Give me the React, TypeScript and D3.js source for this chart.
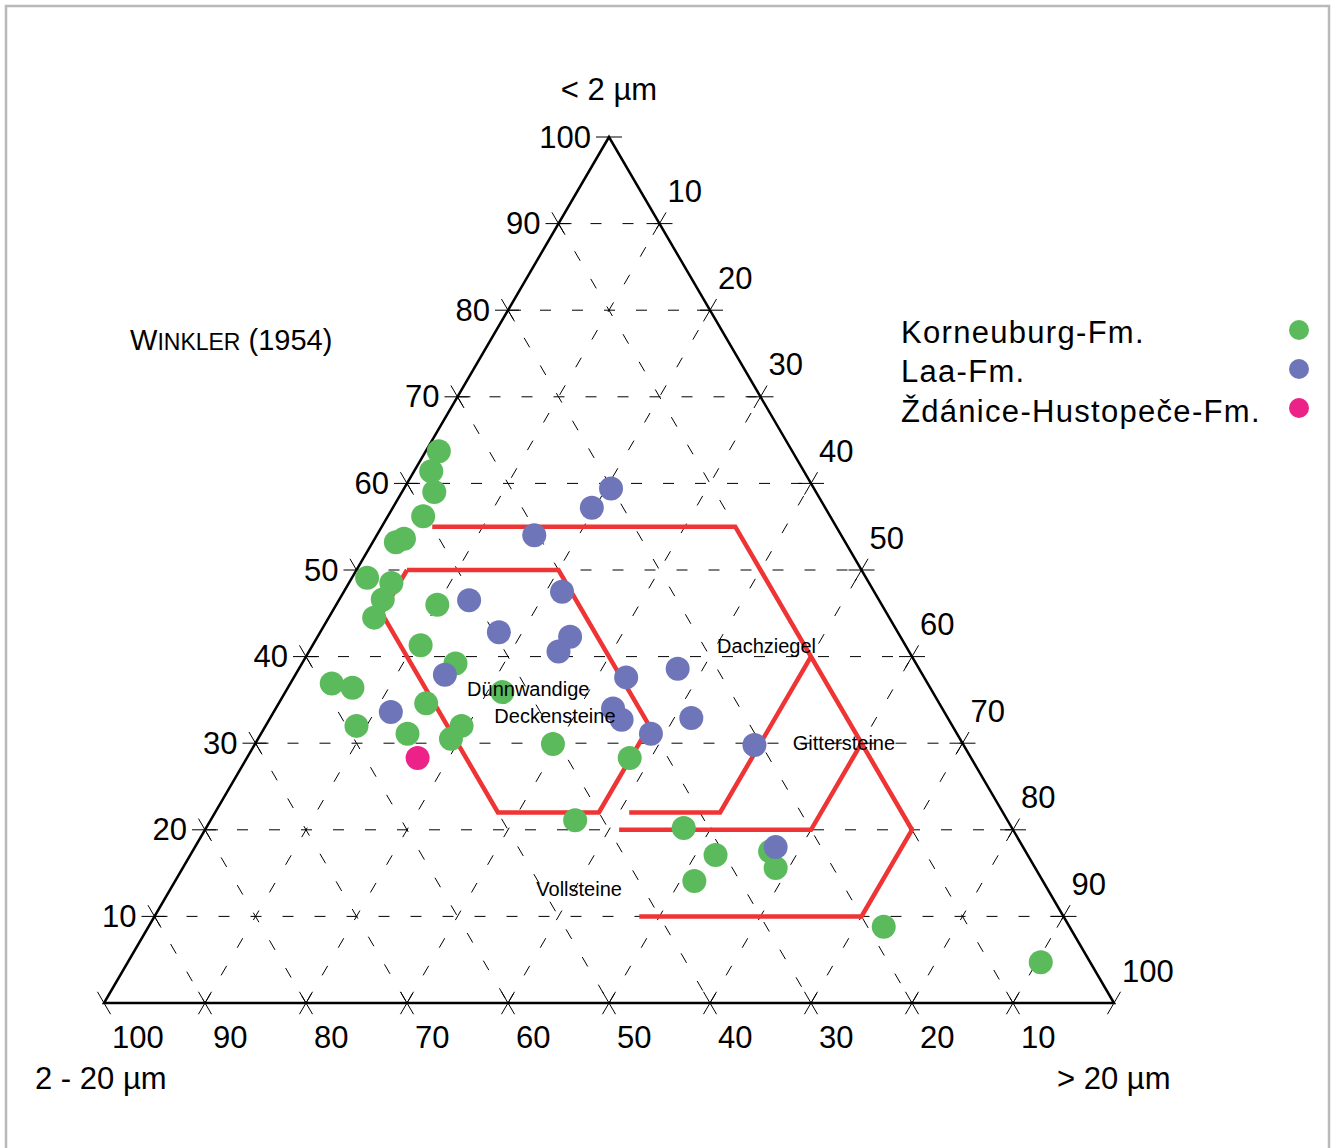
import React from "react";
import * as d3 from "d3";

// ---------- data (percentages: [clay <2µm, silt 2-20µm, sand >20µm]) ----------
const gridValues = [10, 20, 30, 40, 50, 60, 70, 80, 90];
const tickLabels = [10, 20, 30, 40, 50, 60, 70, 80, 90, 100];

const korneuburg: [number, number, number][] = [
  [63.7, 35.0, 1.3], [61.4, 36.9, 1.7], [59.0, 37.8, 3.2], [56.2, 40.3, 3.5],
  [53.2, 44.5, 2.3], [53.6, 43.5, 2.9], [49.1, 49.4, 1.5], [48.5, 47.3, 4.2],
  [46.6, 49.1, 4.3], [44.5, 51.0, 4.5], [46.0, 44.0, 10.0], [41.3, 48.0, 10.7],
  [39.2, 45.6, 15.2], [36.9, 59.0, 4.1], [36.4, 57.2, 6.4], [35.9, 42.6, 21.5],
  [34.6, 50.8, 14.6], [32.0, 59.0, 9.0], [32.0, 48.6, 19.4], [31.1, 54.4, 14.5],
  [30.5, 50.4, 19.1], [29.9, 40.6, 29.5], [28.3, 33.8, 37.9], [21.1, 42.8, 36.1],
  [20.2, 32.5, 47.3], [17.1, 30.9, 52.0], [17.5, 25.3, 57.2], [15.6, 25.7, 58.7],
  [14.1, 34.5, 51.4], [8.8, 18.4, 72.8], [4.7, 4.9, 90.4],
];

const laa: [number, number, number][] = [
  [59.4, 20.1, 20.5], [57.2, 23.1, 19.7], [54.0, 30.4, 15.6], [47.5, 30.9, 21.6],
  [46.5, 40.6, 12.9], [42.8, 39.5, 17.7], [42.3, 32.7, 25.0], [40.6, 34.7, 24.7],
  [37.6, 29.5, 32.9], [38.6, 23.9, 37.5], [37.9, 47.3, 14.8], [33.6, 54.8, 11.6],
  [34.0, 32.6, 33.4], [32.7, 32.4, 34.9], [32.9, 25.4, 41.7], [31.1, 30.3, 38.6],
  [29.8, 20.7, 49.5], [18.0, 24.5, 57.5],
];

const zdanice: [number, number, number][] = [[28.3, 54.8, 16.9]];

// Winkler (1954) field boundaries, [clay, sand]
const boundaryOuter: [number, number][] = [
  [55, 5], [55, 35], [40, 50], [30, 60], [20, 70], [10, 70], [10, 48],
];
const boundaryDachziegel: [number, number][] = [[40, 50], [22, 50], [22, 41]];
const boundaryGitter: [number, number][] = [[30, 60], [20, 60], [20, 41]];
const boundaryDuenn: [number, number][] = [
  [50, 5], [50, 20], [32, 38], [22, 38], [22, 28], [45, 5], [50, 5],
];

const fieldNames = ["Dachziegel", "Gittersteine", "Dünnwandige", "Deckensteine", "Vollsteine"];
const fieldClay = [41.2, 30.0, 36.3, 33.1, 13.2];
const fieldSand = [40.1, 53.2, 17.8, 22.1, 36.2];

const seriesNames = ["Korneuburg-Fm.", "Laa-Fm.", "Ždánice-Hustopeče-Fm."];
const seriesColors = ["#5bbb5c", "#6e76b9", "#ec2288"];

// ---------- geometry ----------
const W = 1335;
const H = 1148;
const L = { x: 104, y: 1003 };
const R = { x: 1114, y: 1003 };
const T = { x: 609, y: 137 };
const FONT = "'Liberation Sans', Arial, Helvetica, sans-serif";

const yScale = d3.scaleLinear().domain([0, 100]).range([L.y, T.y]);
const sandX = d3.scaleLinear().domain([0, 100]).range([0, R.x - L.x]);
const clayX = d3.scaleLinear().domain([0, 100]).range([0, T.x - L.x]);

const proj = (clay: number, sand: number): [number, number] => [
  L.x + clayX(clay) + sandX(sand),
  yScale(clay),
];

const line = d3.line<[number, number]>();

const unit = (dx: number, dy: number) => {
  const l = Math.hypot(dx, dy);
  return [dx / l, dy / l];
};
const dirClay = [1, 0];
const dirSand = unit(T.x - L.x, T.y - L.y);
const dirSilt = unit(R.x - T.x, R.y - T.y);
const TICK = 13;

export default function App() {
  // grid lines (clay = v horizontal, sand = v, silt = v)
  const gridLines: { a: [number, number]; b: [number, number]; dir: number[] }[] = [];
  gridValues.forEach((v) => {
    gridLines.push({ a: proj(v, 0), b: proj(v, 100 - v), dir: dirClay });
    gridLines.push({ a: proj(0, v), b: proj(100 - v, v), dir: dirSand });
    gridLines.push({ a: proj(100 - v, 0), b: proj(0, 100 - v), dir: dirSilt });
  });
  // tick points (including corners)
  const tickSegs: [number, number][][] = [];
  gridLines.forEach((g) => {
    [g.a, g.b].forEach((p) => {
      tickSegs.push([
        [p[0] - g.dir[0] * TICK, p[1] - g.dir[1] * TICK],
        [p[0] + g.dir[0] * TICK, p[1] + g.dir[1] * TICK],
      ]);
    });
  });
  const apex = proj(100, 0);
  const bl = proj(0, 0);
  const br = proj(0, 100);
  tickSegs.push([[apex[0] - TICK, apex[1]], [apex[0] + TICK, apex[1]]]);
  tickSegs.push([
    [bl[0] - dirSilt[0] * TICK, bl[1] - dirSilt[1] * TICK],
    [bl[0] + dirSilt[0] * TICK, bl[1] + dirSilt[1] * TICK],
  ]);
  tickSegs.push([
    [br[0] - dirSand[0] * TICK, br[1] - dirSand[1] * TICK],
    [br[0] + dirSand[0] * TICK, br[1] + dirSand[1] * TICK],
  ]);

  const boundaries = [boundaryOuter, boundaryDachziegel, boundaryGitter, boundaryDuenn];
  const series = [korneuburg, laa, zdanice];

  return (
    <svg
      width={W}
      height={H}
      style={{ position: "absolute", left: 0, top: 0, background: "#fff" }}
      fontFamily={FONT}
    >
      <rect x={0} y={0} width={W} height={H} fill="#fff" />
      <rect x={6} y={6} width={1323} height={1170} fill="none" stroke="#b9b9b9" strokeWidth={2.5} />

      {/* grid */}
      <g stroke="#000" strokeWidth={1} fill="none">
        {gridLines.map((g, i) => (
          <path key={i} d={line([g.a, g.b]) || ""} strokeDasharray="11,21" />
        ))}
        {tickSegs.map((s, i) => (
          <path key={"t" + i} d={line(s as [number, number][]) || ""} />
        ))}
      </g>

      {/* triangle */}
      <path
        d={(line([proj(100, 0), proj(0, 0), proj(0, 100)]) || "") + "Z"}
        fill="none"
        stroke="#000"
        strokeWidth={2.5}
        strokeLinejoin="miter"
      />

      {/* field boundaries */}
      <g stroke="#ee3434" strokeWidth={4.5} fill="none" strokeLinejoin="miter">
        {boundaries.map((b, i) => (
          <path key={i} d={line(b.map(([c, s]) => proj(c, s))) || ""} />
        ))}
      </g>

      {/* points */}
      {series.map((pts, si) => (
        <g key={si} fill={seriesColors[si]}>
          {pts.map(([c, , s], i) => {
            const [x, y] = proj(c, s);
            return <circle key={i} cx={x} cy={y} r={12} />;
          })}
        </g>
      ))}

      {/* field labels */}
      <g fontSize={20} fill="#000">
        {fieldNames.map((n, i) => {
          const [x, y] = proj(fieldClay[i], fieldSand[i]);
          return (
            <text key={n} x={x} y={y} dominantBaseline="central">
              {n}
            </text>
          );
        })}
      </g>

      {/* tick labels */}
      <g fontSize={31} fill="#000">
        {tickLabels.map((v) => {
          const [x, y] = proj(v, 0);
          return (
            <text key={"c" + v} x={x - 18} y={y} textAnchor="end" dominantBaseline="central">
              {v}
            </text>
          );
        })}
        {tickLabels.map((v) => {
          const [x, y] = proj(100 - v, v);
          return (
            <text key={"s" + v} x={x + 8} y={y - 32} dominantBaseline="central">
              {v}
            </text>
          );
        })}
        {tickLabels.map((v) => {
          const [x, y] = proj(0, 100 - v);
          return (
            <text key={"b" + v} x={x + 8} y={y + 34} dominantBaseline="central">
              {v}
            </text>
          );
        })}
      </g>

      {/* axis titles */}
      <g fontSize={31} fill="#000">
        <text x={T.x} y={89} textAnchor="middle" dominantBaseline="central">
          {"< 2 µm"}
        </text>
        <text x={35} y={1078} dominantBaseline="central">
          2 - 20 µm
        </text>
        <text x={1057} y={1078} dominantBaseline="central">
          {"> 20 µm"}
        </text>
      </g>

      {/* Winkler */}
      <text x={130} y={350} fontSize={29} fill="#000">
        W<tspan fontSize={23}>INKLER</tspan> (1954)
      </text>

      {/* legend */}
      <g fontSize={31} fill="#000" letterSpacing={1.3}>
        {seriesNames.map((n, i) => (
          <g key={n}>
            <text x={901} y={332 + i * 39.5} dominantBaseline="central">
              {n}
            </text>
            <circle cx={1299} cy={330 + i * 39} r={10} fill={seriesColors[i]} />
          </g>
        ))}
      </g>
    </svg>
  );
}
